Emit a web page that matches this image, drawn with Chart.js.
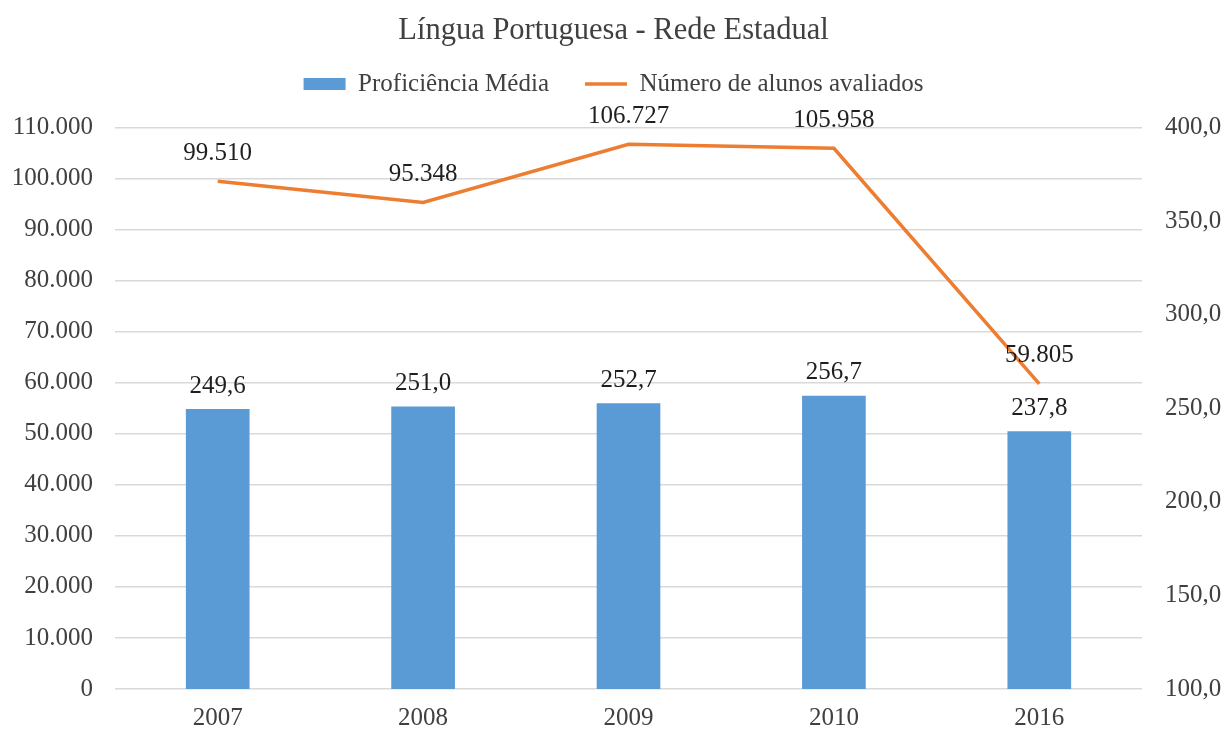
<!DOCTYPE html>
<html>
<head>
<meta charset="utf-8">
<script src="https://cdn.jsdelivr.net/npm/chart.js@4"></script>
<style>
  html, body { margin: 0; padding: 0; background: #fff; }
  #wrap { width: 1227px; height: 731px; }
</style>
</head>
<body>
<div id="wrap"><canvas id="grafico" width="1227" height="731"></canvas></div>
<script>
// Dados do gráfico
const anos = ['2007', '2008', '2009', '2010', '2016'];
const proficienciaMedia = [249.6, 251.0, 252.7, 256.7, 237.8];
const alunosAvaliados = [99510, 95348, 106727, 105958, 59805];

const fonteSerif = "'Liberation Serif', 'Times New Roman', serif";

// formatos pt-BR
function milhar(v) {
    return String(Math.round(v)).replace(/\B(?=(\d{3})+(?!\d))/g, '.');
}
function decimal(v) {
    return v.toFixed(1).replace('.', ',');
}

// Rótulos de dados desenhados à mão (sem plugin externo)
const rotulosPlugin = {
    id: 'rotulos',
    afterDatasetsDraw(chart) {
        const ctx = chart.ctx;
        ctx.save();
        ctx.font = '25px ' + fonteSerif;
        ctx.fillStyle = '#1f1f1f';
        ctx.textAlign = 'center';
        ctx.textBaseline = 'middle';
        chart.data.datasets.forEach((ds, i) => {
            const meta = chart.getDatasetMeta(i);
            meta.data.forEach((el, j) => {
                const v = ds.data[j];
                if (ds.type === 'bar') {
                    ctx.fillText(decimal(v), el.x, el.y - 23);
                } else {
                    ctx.fillText(milhar(v), el.x, el.y - 28);
                }
            });
        });
        ctx.restore();
    }
};

// espaço extra entre a legenda e a área do gráfico
const espacoLegenda = {
    id: 'espacoLegenda',
    beforeInit(chart) {
        const fitOriginal = chart.legend.fit;
        chart.legend.fit = function() {
            fitOriginal.bind(chart.legend)();
            this.height += 21;
        };
    }
};

const ctx = document.getElementById('grafico').getContext('2d');
const grafico = new Chart(ctx, {
    data: {
        labels: anos,
        datasets: [
            {
                type: 'bar',
                label: 'Proficiência Média',
                data: proficienciaMedia,
                yAxisID: 'yDir',
                backgroundColor: '#5B9BD5',
                borderWidth: 0,
                categoryPercentage: 1,
                barPercentage: 0.31,
                order: 1,
                pointStyle: 'rect'
            },
            {
                type: 'line',
                label: 'Número de alunos avaliados',
                data: alunosAvaliados,
                yAxisID: 'yEsq',
                borderColor: '#ED7D31',
                backgroundColor: '#ED7D31',
                borderWidth: 3.5,
                pointRadius: 0,
                tension: 0,
                order: 0,
                pointStyle: 'line'
            }
        ]
    },
    options: {
        responsive: false,
        animation: false,
        plugins: {
            title: {
                display: true,
                text: 'Língua Portuguesa - Rede Estadual',
                color: '#404040',
                font: { family: fonteSerif, size: 30.5, weight: 'normal' },
                padding: { top: 13, bottom: -14 }
            },
            legend: {
                display: true,
                labels: {
                    usePointStyle: true,
                    pointStyleWidth: 42,
                    boxHeight: 12,
                    color: '#404040',
                    font: { family: fonteSerif, size: 25 },
                    padding: 36,
                    sort: (a, b) => a.datasetIndex - b.datasetIndex
                }
            },
            tooltip: { enabled: false }
        },
        scales: {
            x: {
                grid: { display: false },
                border: { display: false },
                ticks: {
                    color: '#404040',
                    font: { family: fonteSerif, size: 25 },
                    padding: 6
                },
                afterFit(scale) { scale.height = 42; }
            },
            yEsq: {
                position: 'left',
                min: 0,
                max: 110000,
                grid: { color: '#d9d9d9', lineWidth: 1.5, drawTicks: false },
                border: { display: false },
                ticks: {
                    stepSize: 10000,
                    color: '#404040',
                    font: { family: fonteSerif, size: 25 },
                    padding: 22,
                    callback: v => milhar(v)
                },
                afterFit(scale) { scale.width = 115; }
            },
            yDir: {
                position: 'right',
                min: 100,
                max: 400,
                grid: { display: false, drawTicks: false },
                border: { display: false },
                ticks: {
                    stepSize: 50,
                    color: '#404040',
                    font: { family: fonteSerif, size: 25 },
                    padding: 23,
                    callback: v => decimal(v)
                },
                afterFit(scale) { scale.width = 85; }
            }
        }
    },
    plugins: [rotulosPlugin, espacoLegenda]
});
</script>
</body>
</html>
